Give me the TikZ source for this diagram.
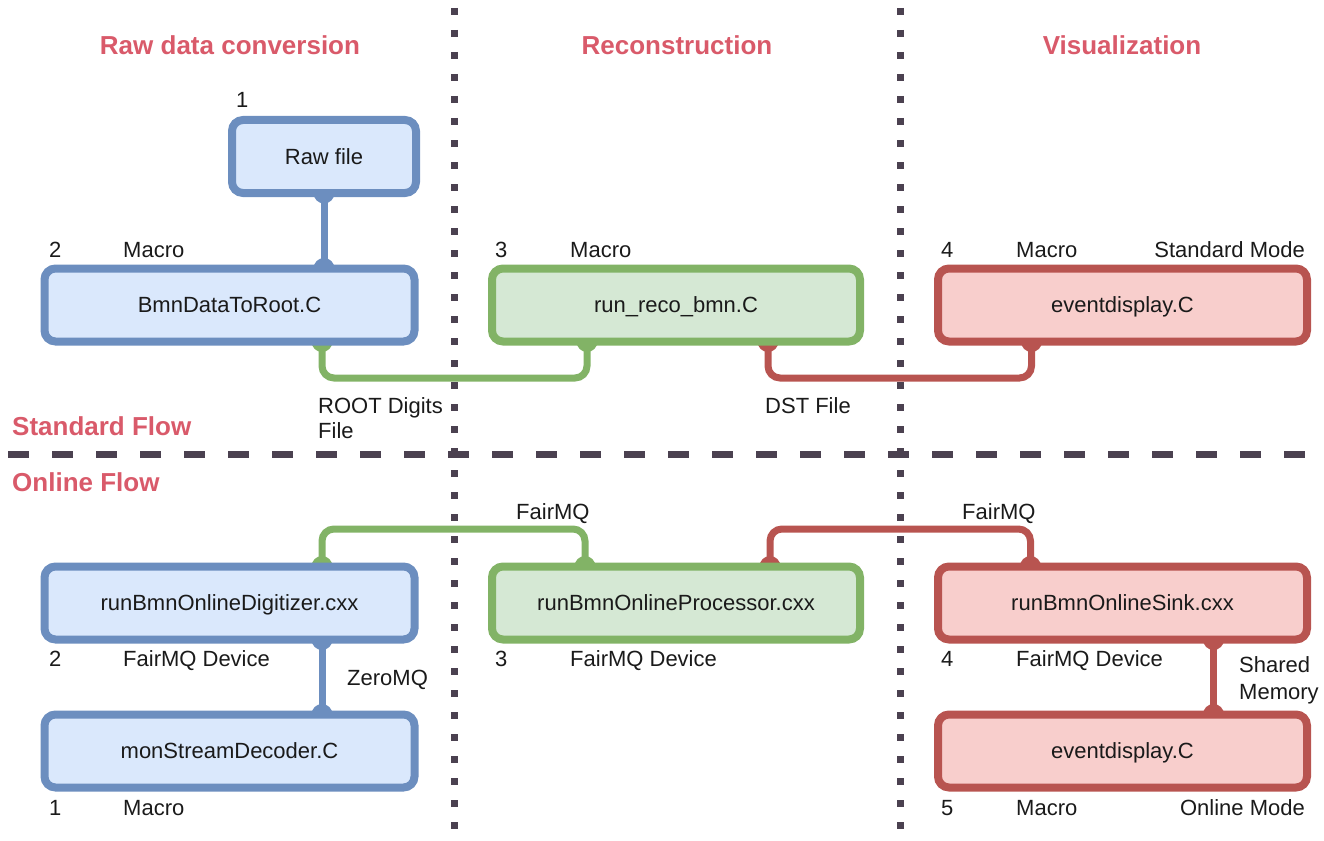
\documentclass[tikz,border=0pt]{standalone}
\usepackage{fontspec}
\setmainfont{Liberation Sans}
\usetikzlibrary{calc}
\definecolor{bluefill}{HTML}{DAE8FC}
\definecolor{bluedraw}{HTML}{6C8EBF}
\definecolor{greenfill}{HTML}{D5E8D4}
\definecolor{greendraw}{HTML}{82B366}
\definecolor{redfill}{HTML}{F8CECC}
\definecolor{reddraw}{HTML}{B85450}
\definecolor{headcol}{HTML}{D95A6A}
\definecolor{divider}{HTML}{4B4150}
\definecolor{txt}{HTML}{1A1A1A}
\pgfdeclarelayer{bg}
\pgfsetlayers{bg,main}
\begin{document}
\begin{tikzpicture}[x=1pt,y=-1pt,
  box/.style={rectangle, rounded corners=11pt, line width=8pt, minimum width=370pt,
    minimum height=73pt, outer sep=0pt, inner sep=0pt, text=txt, text depth=0pt,
    font=\fontsize{22}{26}\selectfont},
  bluebox/.style={box, draw=bluedraw, fill=bluefill},
  greenbox/.style={box, draw=greendraw, fill=greenfill},
  redbox/.style={box, draw=reddraw, fill=redfill},
  lbl/.style={anchor=base west, inner sep=0pt, text=txt, font=\fontsize{22}{26}\selectfont},
  lblr/.style={lbl, anchor=base east},
  head/.style={anchor=base, inner sep=0pt, text=headcol, font=\bfseries\fontsize{26}{30}\selectfont},
  headl/.style={head, anchor=base west},
  conn/.style={line width=7pt, rounded corners=12pt},
  sep/.style={draw=divider, line width=7pt},
]
\useasboundingbox (0,0) rectangle (1324,840);

% column headings and flow titles
\node[head] (hraw) at (230,55) {Raw data conversion};
\node[head] (hreco) at (677,55) {Reconstruction};
\node[head] (hvis) at (1122,55) {Visualization};
\node[headl] (hstd) at (12,435) {Standard Flow};
\node[headl] (honl) at (12,491) {Online Flow};

% standard flow boxes
\node[bluebox, minimum width=184pt] (raw) at (324,156.5) {Raw file};
\node[bluebox] (bdr) at (229.5,305) {BmnDataToRoot.C};
\node[greenbox, minimum width=368pt] (reco) at (676,305) {run\_reco\_bmn.C};
\node[redbox, minimum width=369pt] (ed1) at (1122.5,305) {eventdisplay.C};

% online flow boxes
\node[bluebox] (dig) at (229.5,603) {runBmnOnlineDigitizer.cxx};
\node[greenbox, minimum width=368pt] (proc) at (676,603) {runBmnOnlineProcessor.cxx};
\node[redbox, minimum width=369pt] (sink) at (1122.5,603) {runBmnOnlineSink.cxx};
\node[bluebox] (mon) at (229.5,751) {monStreamDecoder.C};
\node[redbox, minimum width=369pt] (ed2) at (1122.5,751) {eventdisplay.C};

% connector end points
\coordinate (c1a) at (raw.south);
\coordinate (c1b) at (raw.south |- bdr.north);
\coordinate (c2a) at ([xshift=92.5]bdr.south);
\coordinate (c2b) at ([xshift=-89]reco.south);
\coordinate (c3a) at ([xshift=92]reco.south);
\coordinate (c3b) at ([xshift=-91]ed1.south);
\coordinate (c4a) at ([xshift=92.5]dig.north);
\coordinate (c4b) at ([xshift=-91]proc.north);
\coordinate (c5a) at ([xshift=94]proc.north);
\coordinate (c5b) at ([xshift=-92]sink.north);
\coordinate (c6a) at ([xshift=92.5]dig.south);
\coordinate (c6b) at ([xshift=92.5]mon.north);
\coordinate (c7a) at ([xshift=91]sink.south);
\coordinate (c7b) at ([xshift=91]ed2.north);

\begin{pgfonlayer}{bg}
  % connectors with round joints at the boxes
  \draw[conn, bluedraw] (c1a) -- (c1b);
  \draw[conn, greendraw] (c2a) -- ++(0,36.5) -| (c2b);
  \draw[conn, reddraw] (c3a) -- ++(0,36.5) -| (c3b);
  \draw[conn, greendraw] (c4a) -- ++(0,-37.5) -| (c4b);
  \draw[conn, reddraw] (c5a) -- ++(0,-37.5) -| (c5b);
  \draw[conn, bluedraw] (c6a) -- (c6b);
  \draw[conn, reddraw] (c7a) -- (c7b);
  \foreach \p in {c1a,c1b,c6a,c6b} \fill[bluedraw] (\p) circle[radius=10.5pt];
  \foreach \p in {c2a,c2b,c4a,c4b} \fill[greendraw] (\p) circle[radius=10.5pt];
  \foreach \p in {c3a,c3b,c5a,c5b,c7a,c7b} \fill[reddraw] (\p) circle[radius=10.5pt];
  % section dividers
  \draw[sep, dash pattern=on 7pt off 15pt] (454,8) -- (454,840);
  \draw[sep, dash pattern=on 7pt off 15pt] (900,8) -- (900,840);
  \draw[sep, dash pattern=on 21pt off 23pt] (8,454) -- (1324,454);
\end{pgfonlayer}

% labels, standard flow
\node[lbl] (n1) at (236,108) {1};
\node[lbl] (n2) at (49,257) {2};
\node[lbl] (m2) at (123,257) {Macro};
\node[lbl] (n3) at (495,257) {3};
\node[lbl] (m3) at (570,257) {Macro};
\node[lbl] (n4) at (941,257) {4};
\node[lbl] (m4) at (1016,257) {Macro};
\node[lblr] (std) at (1305,257) {Standard Mode};
\node[lbl] (rootd) at (318,413) {ROOT Digits};
\node[lbl] (rootf) at (318,438) {File};
\node[lbl] (dst) at (765,413) {DST File};

% labels, online flow
\node[lbl] (fq1) at (516,519) {FairMQ};
\node[lbl] (fq2) at (962,519) {FairMQ};
\node[lbl] (o2) at (49,666) {2};
\node[lbl] (d2) at (123,666) {FairMQ Device};
\node[lbl] (zmq) at (347,685) {ZeroMQ};
\node[lbl] (o3) at (495,666) {3};
\node[lbl] (d3) at (570,666) {FairMQ Device};
\node[lbl] (o4) at (941,666) {4};
\node[lbl] (d4) at (1016,666) {FairMQ Device};
\node[lbl] (shm1) at (1239,672) {Shared};
\node[lbl] (shm2) at (1239,699) {Memory};
\node[lbl] (o1) at (49,815) {1};
\node[lbl] (mo1) at (123,815) {Macro};
\node[lbl] (o5) at (941,815) {5};
\node[lbl] (mo5) at (1016,815) {Macro};
\node[lblr] (onl) at (1305,815) {Online Mode};
\end{tikzpicture}
\end{document}
